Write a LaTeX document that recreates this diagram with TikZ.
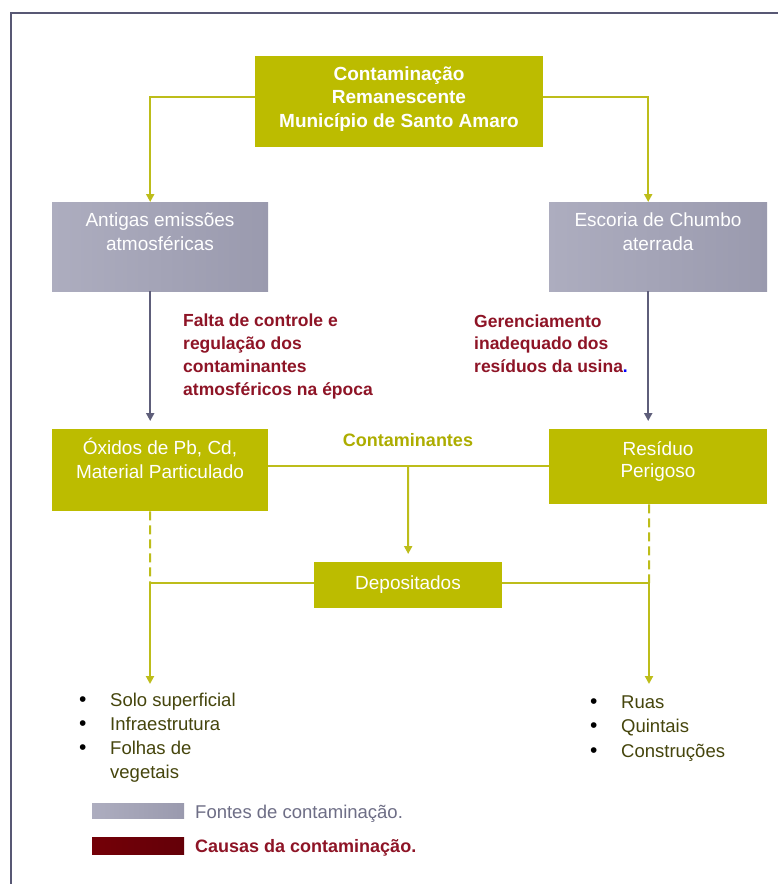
\documentclass[tikz,border=0pt]{standalone}
\usepackage{fontspec}
\setmainfont{Liberation Sans}
\usetikzlibrary{arrows.meta}
\definecolor{olivebox}{HTML}{BCBC00}
\definecolor{oliveline}{HTML}{BDBD1A}
\definecolor{grayL}{HTML}{ADADBF}
\definecolor{grayR}{HTML}{9A9AAE}
\definecolor{grayline}{HTML}{5E5E7A}
\definecolor{framecol}{HTML}{585874}
\definecolor{causered}{HTML}{8E1426}
\definecolor{itemcol}{HTML}{45450C}
\definecolor{legendgray}{HTML}{6E6E86}
\definecolor{legendred}{HTML}{640008}
\definecolor{contcol}{HTML}{ADAD00}
\newcommand{\blt}{\makebox[31pt][l]{\textcolor{black}{\fontsize{21}{24}\selectfont\textbullet}}}
\begin{document}
\begin{tikzpicture}[x=1pt,y=-1pt,
  obox/.style={fill=olivebox,draw=none,inner sep=0pt,anchor=north west},
  gbox/.style={left color=grayL,right color=grayR,draw=none,inner sep=0pt,anchor=north west},
  boxtext/.style={text=white,align=center,anchor=base,inner sep=0pt,font=\fontsize{19}{23.5}\selectfont},
  redtext/.style={text=causered,align=left,anchor=base west,inner sep=0pt,font=\fontsize{17.5}{22.7}\selectfont\bfseries},
  itemtext/.style={text=itemcol,align=left,anchor=base west,inner sep=0pt,font=\fontsize{18.5}{23.7}\selectfont},
  oline/.style={draw=oliveline,line width=2pt},
  gline/.style={draw=grayline,line width=2pt},
  tip/.style={-{Triangle[length=8pt,width=8pt]}}
]
\useasboundingbox (0,0) rectangle (778,884);
\fill[white] (0,0) rectangle (778,884);
% frame
\draw[framecol,line width=2.5pt] (11,890) -- (11,13) -- (782,13);

% boxes
\node[obox,minimum width=288pt,minimum height=91pt] (top) at (255,56) {};
\node[boxtext,font=\fontsize{19}{23.5}\selectfont\bfseries] (topT) at (399,127) {Contaminação\\Remanescente\\Município de Santo Amaro};

\node[gbox,minimum width=216pt,minimum height=89pt] (antigas) at (52,202) {};
\node[boxtext,font=\fontsize{19}{24}\selectfont] (antigasT) at (160,250) {Antigas emissões\\atmosféricas};

\node[gbox,minimum width=218pt,minimum height=89pt] (escoria) at (549,202) {};
\node[boxtext,font=\fontsize{19}{24}\selectfont] (escoriaT) at (658,250) {Escoria de Chumbo\\aterrada};

\node[obox,minimum width=216pt,minimum height=82pt] (oxidos) at (52,429) {};
\node[boxtext] (oxidosT) at (160,478) {Óxidos de Pb, Cd,\\Material Particulado};

\node[obox,minimum width=218pt,minimum height=75pt] (residuo) at (549,429) {};
\node[boxtext,font=\fontsize{19}{22}\selectfont] (residuoT) at (658,477) {Resíduo\\Perigoso};

\node[obox,minimum width=188pt,minimum height=46pt] (depos) at (314,562) {};
\node[boxtext] (deposT) at (408,589) {Depositados};

% cause texts
\node[redtext] (falta) at (183,395) {Falta de controle e\\regulação dos\\contaminantes\\atmosféricos na época};
\node[redtext] (geren) at (474,372.5) {Gerenciamento\\inadequado dos\\resíduos da usina\textcolor{blue}{.}};

\node[text=contcol,anchor=base,inner sep=0pt,font=\fontsize{18}{22}\selectfont\bfseries] (contam) at (408,446) {Contaminantes};

% connectors from top
\draw[oline,tip] ([yshift=4.5pt]top.west) -| ([xshift=-10pt]antigas.north);
\draw[oline,tip] ([yshift=4.5pt]top.east) -| ([xshift=-10pt]escoria.north);

% gray arrows
\draw[gline,tip,shorten >=8pt] ([xshift=-10pt]antigas.south) -- ([xshift=-10pt]oxidos.north);
\draw[gline,tip,shorten >=8pt] ([xshift=-10pt]escoria.south) -- ([xshift=-10pt]residuo.north);

% contaminants line
\coordinate (mid) at (408,466);
\draw[oline] (oxidos.east |- mid) -- (residuo.west |- mid);
\draw[oline,tip,shorten >=8pt] (mid) -- (depos.north);

% dashed and deposit lines
\coordinate (jl) at (150,583);
\coordinate (jr) at (649,583);
\coordinate (el) at (150,684);
\coordinate (er) at (649,684);
\draw[oline,dash pattern=on 9pt off 5pt] ([xshift=-10pt]oxidos.south) -- (jl);
\draw[oline,dash pattern=on 9pt off 5pt] ([xshift=-9pt]residuo.south) -- (jr);
\draw[oline] (jl) -- (depos.west |- jl);
\draw[oline] (depos.east |- jr) -- (jr);
\draw[oline,tip] (jl) -- (el);
\draw[oline,tip] (jr) -- (er);

% item lists
\node[itemtext] (listL) at (79,778) {\blt Solo superficial\\\blt Infraestrutura\\\blt Folhas de\\\makebox[31pt][l]{}vegetais};
\node[itemtext,font=\fontsize{18.5}{24.4}\selectfont] (listR) at (590,757) {\blt Ruas\\\blt Quintais\\\blt Construções};

% legend
\node[left color=grayL,right color=grayR,draw=none,inner sep=0pt,anchor=north west,minimum width=92pt,minimum height=15pt] (legG) at (92,803) {};
\node[text=legendgray,anchor=base west,inner sep=0pt,font=\fontsize{18.5}{22}\selectfont] (legGT) at (195,818) {Fontes de contaminação.};
\node[left color=legendred!90!red,right color=legendred,draw=none,inner sep=0pt,anchor=north west,minimum width=92pt,minimum height=17pt] (legR) at (92,837) {};
\node[text=causered,anchor=base west,inner sep=0pt,font=\fontsize{18}{22}\selectfont\bfseries] (legRT) at (195,852) {Causas da contaminação.};
\end{tikzpicture}
\end{document}
